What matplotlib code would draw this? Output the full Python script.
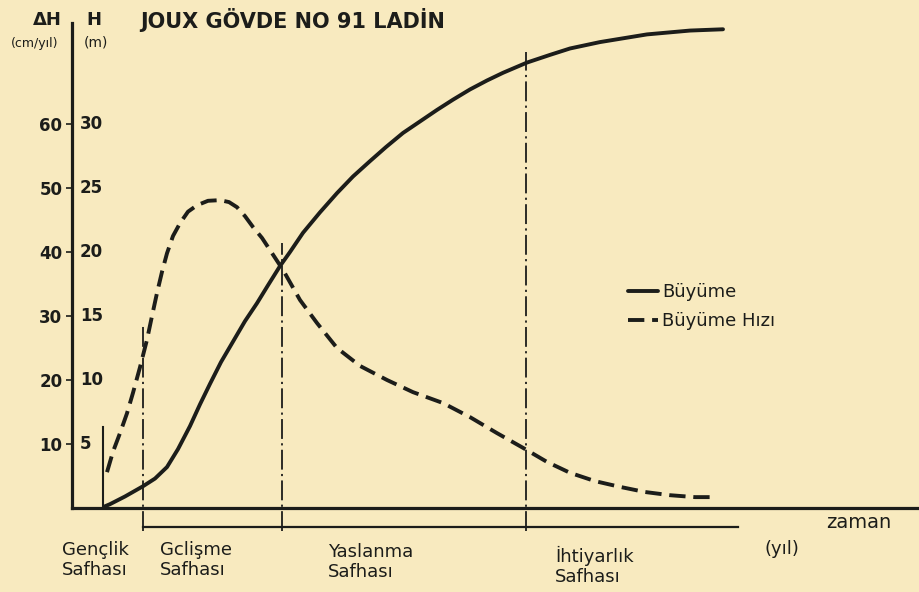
import matplotlib.pyplot as plt

# values
# time runs in drawing units along the "zaman" axis
t_growth = [6.0, 7.2, 10.2, 13.8, 16.2, 18.6, 20.8, 23.2, 25.2, 27.2, 29.4, 31.8,
            34.2, 36.6, 38.8, 41.2, 43.2, 45.8, 49.2, 52.6, 55.8, 59.2, 62.4, 65.8,
            69.2, 72.6, 75.8, 79.2, 82.6, 85.8, 90.6, 95.2, 99.2, 105.2, 114.6,
            123.2, 129.8]
h_growth = [0.1, 0.3, 0.9, 1.7, 2.3, 3.2, 4.6, 6.4, 8.1, 9.7, 11.4, 13.0,
            14.6, 16.0, 17.4, 18.9, 20.0, 21.5, 23.1, 24.6, 25.9, 27.1, 28.2, 29.3,
            30.2, 31.1, 31.9, 32.7, 33.4, 34.0, 34.8, 35.4, 35.9, 36.4, 37.0,
            37.3, 37.4]                                                   # H (m)

t_rate = [6.6, 7.8, 9.2, 10.6, 11.8, 13.2, 14.6, 15.6, 16.6, 17.6, 18.6, 19.8,
          21.2, 22.8, 24.6, 26.8, 29.2, 31.0, 32.6, 34.2, 35.8, 37.6, 39.2, 41.8,
          45.2, 48.6, 52.6, 57.2, 62.6, 67.8, 73.8, 79.2, 84.6, 89.8, 94.6, 99.2,
          104.2, 109.2, 114.2, 119.2, 124.2, 128.6]
dh_rate = [5.6, 8.8, 11.7, 14.8, 18.0, 22.0, 26.3, 30.0, 33.6, 36.9, 39.8, 42.5,
           44.5, 46.3, 47.3, 48.0, 48.1, 47.8, 47.0, 45.6, 43.9, 42.2, 40.3, 37.2,
           32.5, 28.9, 25.0, 22.2, 20.0, 18.1, 16.4, 14.2, 11.7, 9.4, 7.2, 5.5,
           4.2, 3.3, 2.5, 2.0, 1.7, 1.7]                              # dH (cm/yil)

youth_end = 5.8
phase_edges = [13.8, 41.6, 90.4]
phase_tops = [28.6, 41.4, 71.2]
phase_names = ["Gençlik\nSafhası", "Gclişme\nSafhası", "Yaslanma\nSafhası", "İhtiyarlık\nSafhası"]

ticks_dh = [10, 20, 30, 40, 50, 60]
ticks_h = [5, 10, 15, 20, 25, 30]

bg = "#f8eabf"
ink = "#1c1d1a"
W, H = 919, 592

fig = plt.figure(figsize=(W / 100, H / 100), dpi=100)
fig.patch.set_facecolor(bg)
ax = fig.add_axes([0, 0, 1, 1])
ax.set_facecolor(bg)
ax.set_xlim(-14.8, 169)
ax.set_ylim(-13.125, 79.375)

for s in ["top", "right"]:
    ax.spines[s].set_visible(False)
ax.spines["left"].set_position(("data", -0.4))
ax.spines["left"].set_bounds(0, 75.8)
ax.spines["bottom"].set_position(("data", 0))
ax.spines["bottom"].set_bounds(-0.4, 169)
for s in ["left", "bottom"]:
    ax.spines[s].set_linewidth(2.3)
    ax.spines[s].set_color(ink)

ax.set_xticks([])
ax.set_yticks(ticks_dh)
ax.set_yticklabels([str(v) for v in ticks_dh], fontsize=12, fontweight="bold", color=ink)
ax.tick_params(axis="y", direction="out", length=4, width=1.2, pad=3, colors=ink)
for v, h in zip(ticks_dh, ticks_h):
    ax.text(1.2, v, str(h), fontsize=12, fontweight="bold", color=ink, va="center", ha="left")

# curves: H drawn on the same scale (30 m = 60 cm/yil)
ax.plot(t_growth, [2 * v for v in h_growth], color=ink, lw=2.8,
        solid_capstyle="round", solid_joinstyle="round", label="Büyüme")
ax.plot(t_rate, dh_rate, color=ink, lw=2.8, dashes=(4.2, 2), dash_capstyle="butt",
        label="Büyüme Hızı")

# phase markers
ax.plot([youth_end, youth_end], [0, 12.7], color=ink, lw=1.5)
for x, top in zip(phase_edges, phase_tops):
    ax.plot([x, x], [-3.6, top], color=ink, lw=1.3, dashes=(11, 2.4, 1.2, 2.4))
ax.plot([phase_edges[0], 132.8], [-3.0, -3.0], color=ink, lw=1.6)

leg = ax.legend(loc="upper left", bbox_to_anchor=(628 / W, 1 - 283 / H),
                bbox_transform=fig.transFigure, frameon=False, fontsize=13,
                handlelength=1.65, handletextpad=0.25, labelspacing=0.6, borderpad=0,
                borderaxespad=0)
for t in leg.get_texts():
    t.set_color(ink)

# header
fig.text(140 / W, 1 - 20 / H, "JOUX GÖVDE NO 91 LADİN", fontsize=15,
         fontweight="bold", color=ink, va="center", ha="left")
fig.text(47 / W, 1 - 20 / H, "ΔH", fontsize=13, fontweight="bold", color=ink,
         va="center", ha="center")
fig.text(94 / W, 1 - 20 / H, "H", fontsize=13, fontweight="bold", color=ink,
         va="center", ha="center")
fig.text(35 / W, 1 - 43 / H, "(cm/yıl)", fontsize=9, color=ink, va="center", ha="center")
fig.text(96 / W, 1 - 43 / H, "(m)", fontsize=10, color=ink, va="center", ha="center")

# bottom labels
label_x = [62, 160, 328, 555]
label_y = [560, 560, 562, 566]
for x, y, name in zip(label_x, label_y, phase_names):
    fig.text(x / W, 1 - y / H, name, fontsize=13, color=ink, va="center", ha="left",
             linespacing=1.2)
fig.text(765 / W, 1 - 549 / H, "(yıl)", fontsize=13, color=ink, va="center", ha="left")
fig.text(826 / W, 1 - 522 / H, "zaman", fontsize=14, color=ink, va="center", ha="left")

fig.savefig("out.png", dpi=100, facecolor=bg)
